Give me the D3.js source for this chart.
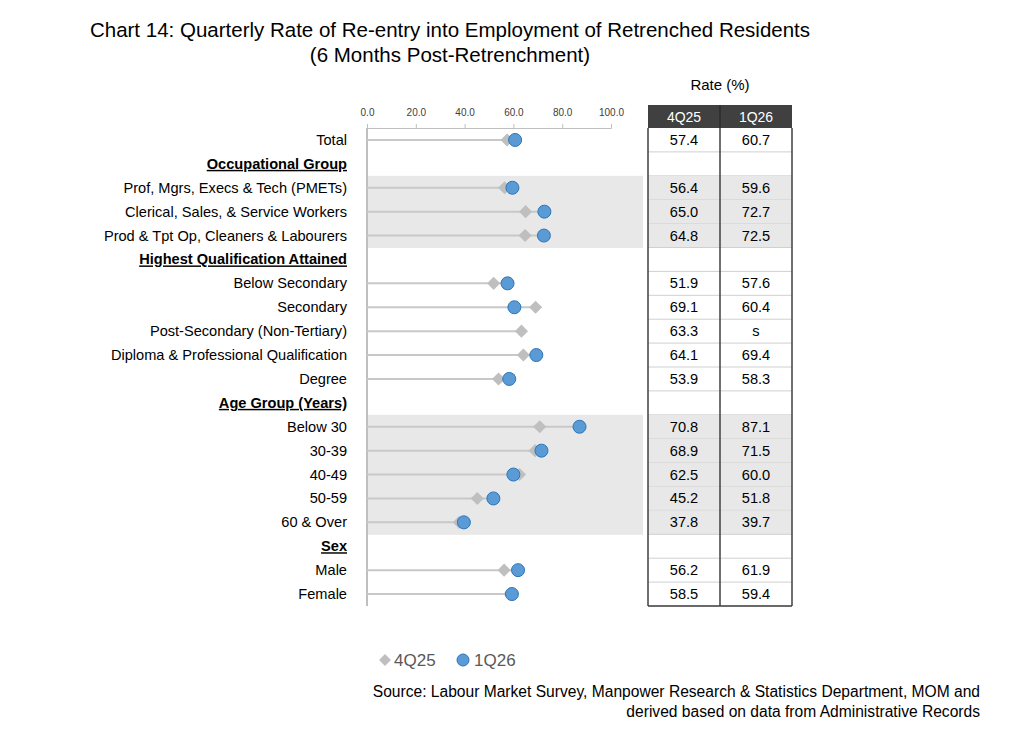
<!DOCTYPE html>
<html><head><meta charset="utf-8">
<script src="https://cdn.jsdelivr.net/npm/d3@7"></script>
<style>body{margin:0;background:#fff;font-family:Arial,"Liberation Sans",sans-serif}</style>
</head><body><div id="chart"></div>
<script>
// rows in order; headers have null values
const categories = ["Total","Occupational Group","Prof, Mgrs, Execs & Tech (PMETs)","Clerical, Sales, & Service Workers","Prod & Tpt Op, Cleaners & Labourers","Highest Qualification Attained","Below Secondary","Secondary","Post-Secondary (Non-Tertiary)","Diploma & Professional Qualification","Degree","Age Group (Years)","Below 30","30-39","40-49","50-59","60 & Over","Sex","Male","Female"];
const isHeader = [0,1,0,0,0,1,0,0,0,0,0,1,0,0,0,0,0,1,0,0];
const shaded = [0,0,1,1,1,0,0,0,0,0,0,0,1,1,1,1,1,0,0,0];
const q4_25 = [57.4,null,56.4,65.0,64.8,null,51.9,69.1,63.3,64.1,53.9,null,70.8,68.9,62.5,45.2,37.8,null,56.2,58.5];
const q1_26 = [60.7,null,59.6,72.7,72.5,null,57.6,60.4,null,69.4,58.3,null,87.1,71.5,60.0,51.8,39.7,null,61.9,59.4];
const q1_26Text = ["60.7","","59.6","72.7","72.5","","57.6","60.4","s","69.4","58.3","","87.1","71.5","60.0","51.8","39.7","","61.9","59.4"];
const xTicks = [0,20,40,60,80,100];

const svg = d3.select("#chart").append("svg").attr("width",1024).attr("height",737);
const x = d3.scaleLinear().domain([0,100]).range([367,611]);
const y = d3.scaleBand().domain(d3.range(categories.length)).range([128,606]);
const mid = i => y(i) + y.bandwidth()/2;

// title
svg.append("text").attr("x",450).attr("y",37).attr("text-anchor","middle").attr("font-size",20.5)
  .text("Chart 14: Quarterly Rate of Re-entry into Employment of Retrenched Residents");
svg.append("text").attr("x",450).attr("y",62).attr("text-anchor","middle").attr("font-size",20.5)
  .text("(6 Months Post-Retrenchment)");
svg.append("text").attr("x",720).attr("y",90).attr("text-anchor","middle").attr("font-size",15).text("Rate (%)");

// shaded bands
shaded.forEach((s,i)=>{ if(s) svg.append("rect").attr("x",367).attr("y",y(i)).attr("width",276)
  .attr("height",y.bandwidth()+0.5).attr("fill","#e8e8e8"); });

// axis on top
const ax = svg.append("g").attr("transform","translate(0,128)")
  .call(d3.axisTop(x).tickValues(xTicks).tickFormat(d3.format(".1f")).tickSize(4));
ax.select(".domain").attr("stroke","#bfbfbf");
ax.selectAll(".tick line").attr("stroke","#bfbfbf");
ax.selectAll("text").attr("font-size",10).attr("fill","#404040").attr("y",-12);
svg.append("line").attr("x1",367).attr("x2",367).attr("y1",128).attr("y2",606).attr("stroke","#bfbfbf").attr("stroke-width",2);

// labels
categories.forEach((c,i)=>{
  const t = svg.append("text").attr("x",347).attr("y",mid(i)+5).attr("text-anchor","end")
    .attr("font-size",14.6).text(c);
  if(isHeader[i]) t.attr("font-weight","bold").attr("text-decoration","underline");
});

// lollipops
categories.forEach((c,i)=>{
  if(isHeader[i]) return;
  const m = d3.max([q4_25[i],q1_26[i]]);
  svg.append("line").attr("x1",x(0)).attr("x2",x(m)).attr("y1",mid(i)).attr("y2",mid(i))
    .attr("stroke","#c8c8c8").attr("stroke-width",2);
  svg.append("path").attr("d",d3.symbol(d3.symbolDiamond2,110)()).attr("transform",`translate(${x(q4_25[i])},${mid(i)})`)
    .attr("fill","#bfbfbf");
  if(q1_26[i]!=null) svg.append("circle").attr("cx",x(q1_26[i])).attr("cy",mid(i)).attr("r",6.5)
    .attr("fill","#5b9bd5").attr("stroke","#2e75b6").attr("stroke-width",1);
});

// table
const cx = [648,720,792];
svg.append("rect").attr("x",648).attr("y",105).attr("width",144).attr("height",23).attr("fill","#404040");
svg.append("line").attr("x1",720).attr("x2",720).attr("y1",105).attr("y2",128).attr("stroke","#222");
[["4Q25",684],["1Q26",756]].forEach(d=>svg.append("text").attr("x",d[1]).attr("y",122).attr("text-anchor","middle")
  .attr("font-size",14).attr("fill","#fff").text(d[0]));
categories.forEach((c,i)=>{
  if(shaded[i]) svg.append("rect").attr("x",648).attr("y",y(i)).attr("width",144).attr("height",y.bandwidth()).attr("fill","#e8e8e8");
  svg.append("line").attr("x1",648).attr("x2",792).attr("y1",y(i)+y.bandwidth()).attr("y2",y(i)+y.bandwidth()).attr("stroke","#d0d0d0");
  if(!isHeader[i]){
    svg.append("text").attr("x",684).attr("y",mid(i)+5).attr("text-anchor","middle").attr("font-size",14.6).text(q4_25[i].toFixed(1));
    svg.append("text").attr("x",756).attr("y",mid(i)+5).attr("text-anchor","middle").attr("font-size",14.6).text(q1_26Text[i]);
  }
});
cx.forEach(v=>svg.append("line").attr("x1",v).attr("x2",v).attr("y1",128).attr("y2",606).attr("stroke","#404040").attr("stroke-width",1.5));
svg.append("line").attr("x1",648).attr("x2",792).attr("y1",606).attr("y2",606).attr("stroke","#404040").attr("stroke-width",1.5);

// legend
svg.append("path").attr("d",d3.symbol(d3.symbolDiamond2,90)()).attr("transform","translate(385,660)").attr("fill","#bfbfbf");
svg.append("text").attr("x",394).attr("y",666).attr("font-size",17).attr("fill","#595959").text("4Q25");
svg.append("circle").attr("cx",463).attr("cy",660).attr("r",6).attr("fill","#5b9bd5").attr("stroke","#2e75b6");
svg.append("text").attr("x",474).attr("y",666).attr("font-size",17).attr("fill","#595959").text("1Q26");

// source
svg.append("text").attr("x",980).attr("y",697).attr("text-anchor","end").attr("font-size",15.6)
  .text("Source: Labour Market Survey, Manpower Research & Statistics Department, MOM and");
svg.append("text").attr("x",980).attr("y",717).attr("text-anchor","end").attr("font-size",15.6)
  .text("derived based on data from Administrative Records");
</script></body></html>
